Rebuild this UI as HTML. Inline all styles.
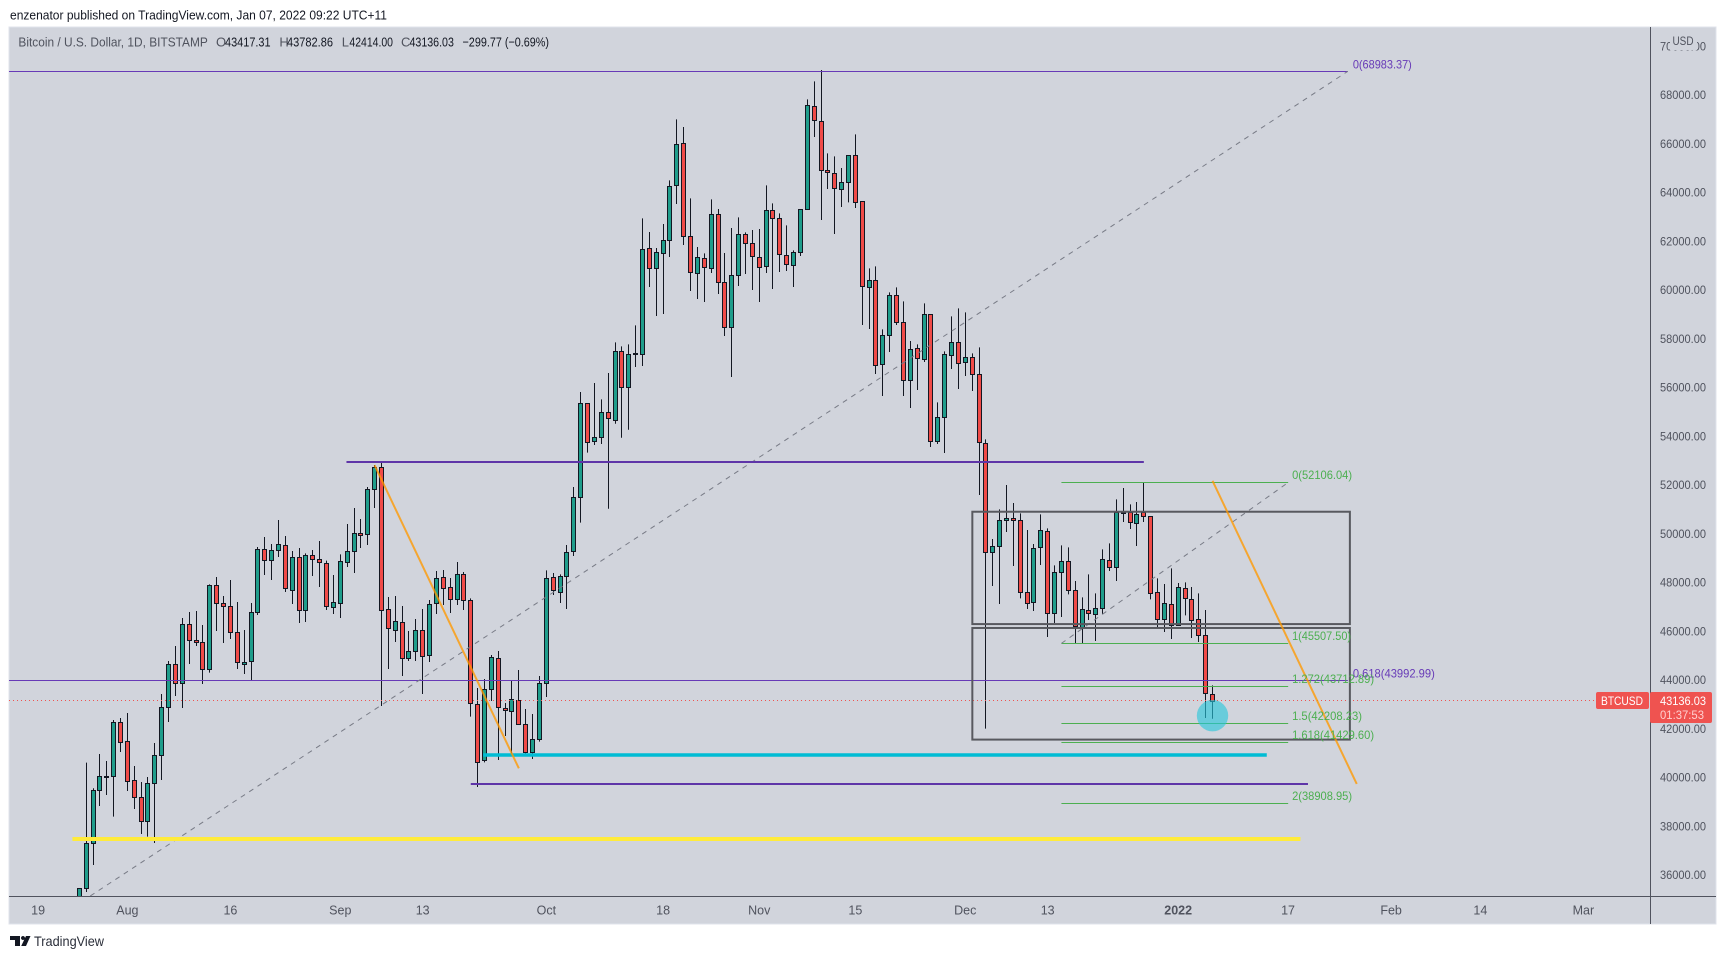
<!DOCTYPE html>
<html lang="en">
<head>
<meta charset="utf-8">
<title>BTCUSD chart</title>
<style>
html,body{margin:0;padding:0;background:#fff;width:1726px;height:959px;overflow:hidden}
svg{display:block;font-family:"Liberation Sans",sans-serif}
</style>
</head>
<body>
<svg id="chart" width="1726" height="959" viewBox="0 0 1726 959" xmlns="http://www.w3.org/2000/svg">
  <defs><clipPath id="plot-clip"><rect x="9" y="27" width="1641" height="869"/></clipPath></defs>
  <rect x="0" y="0" width="1726" height="959" fill="#ffffff"/>
  <text x="10" y="19.5" font-size="13" fill="#131722" textLength="377" lengthAdjust="spacingAndGlyphs">enzenator published on TradingView.com, Jan 07, 2022 09:22 UTC+11</text>
  <rect x="9" y="27" width="1707" height="897" fill="#d1d4dc" stroke="#e0e3eb" stroke-width="1"/>
  <g id="candles" clip-path="url(#plot-clip)"></g>
  <g id="drawings" clip-path="url(#plot-clip)"></g>
  <g id="labels"></g>
  <g font-size="13">
    <text x="18.4" y="46.5" fill="#50535e" textLength="189.4" lengthAdjust="spacingAndGlyphs">Bitcoin / U.S. Dollar, 1D, BITSTAMP</text>
    <text x="216" y="46.5" fill="#50535e">O</text>
    <text x="225" y="46.5" fill="#131722" textLength="45.6" lengthAdjust="spacingAndGlyphs">43417.31</text>
    <text x="279.4" y="46.5" fill="#50535e">H</text>
    <text x="287" y="46.5" fill="#131722" textLength="46" lengthAdjust="spacingAndGlyphs">43782.86</text>
    <text x="341.7" y="46.5" fill="#50535e">L</text>
    <text x="349.4" y="46.5" fill="#131722" textLength="43.6" lengthAdjust="spacingAndGlyphs">42414.00</text>
    <text x="401" y="46.5" fill="#50535e">C</text>
    <text x="409.5" y="46.5" fill="#131722" textLength="44.4" lengthAdjust="spacingAndGlyphs">43136.03</text>
    <text x="462.5" y="46.5" fill="#131722" textLength="86.5" lengthAdjust="spacingAndGlyphs">−299.77 (−0.69%)</text>
  </g>
  <line x1="1650.5" y1="27" x2="1650.5" y2="924" stroke="#50535e" stroke-width="1"/>
  <line x1="9" y1="896.5" x2="1716" y2="896.5" stroke="#50535e" stroke-width="1"/>
  <g id="y-ticks"></g>
  <g id="x-ticks"></g>
  <rect x="1670" y="32" width="27" height="18" fill="#d1d4dc"/>
  <text x="1672.5" y="45" font-size="11.5" fill="#50535e" textLength="21" lengthAdjust="spacingAndGlyphs">USD</text>
  <rect x="1596" y="692" width="53" height="17" rx="2" fill="#ef5350"/>
  <text x="1601" y="705" font-size="12" fill="#ffffff" textLength="42" lengthAdjust="spacingAndGlyphs">BTCUSD</text>
  <rect x="1650" y="692" width="62" height="31" rx="2" fill="#ef5350"/>
  <text x="1660" y="705" font-size="12" fill="#ffffff" textLength="46" lengthAdjust="spacingAndGlyphs">43136.03</text>
  <text x="1660" y="719" font-size="12" fill="#ffd0cf" textLength="44" lengthAdjust="spacingAndGlyphs">01:37:53</text>
  <g>
    <path d="M10 936h10v10h-5v-6h-5zM26 936h4.5l-4.5 10h-4.8zM23 936a2 2 0 1 1-.01 0z" fill="#131722"/>
    <text x="34" y="946" font-size="14" fill="#2a2e39" textLength="70" lengthAdjust="spacingAndGlyphs">TradingView</text>
  </g>
</svg>
<script>
const opens = [
34270,35457,37304,39478,40040,40053,42269,41489,39889,39191,
38207,39766,40915,42884,44648,43869,46290,45633,45551,44443,
47890,47151,47028,45961,44648,44771,46782,49367,48916,49326,
49531,47685,49039,46864,49121,48957,48793,46987,47151,48834,
49285,50051,49982,51829,52731,46905,46071,46372,44895,45182,
46043,45018,47151,48218,47808,47315,48341,47274,43007,40709,
43623,44895,42843,42720,43171,42187,41038,41571,43869,48218,
47630,48259,49285,51528,55357,53825,53962,54987,54659,57490,
56013,57367,57367,61716,60896,61511,62045,64301,66025,62209,
60691,61306,60896,63112,60321,58475,60609,62291,61922,61347,
60978,63276,62947,61429,61019,61552,63317,67543,66927,64917,
64794,64137,64425,65532,63645,60116,60403,56957,58147,59788,
58680,56300,57613,57162,59008,53798,54782,57326,57860,57039,
57244,56547,53715,49244,49490,50557,50639,50557,47603,47192,
49449,50106,46741,48423,48875,47685,46167,46864,46700,46946,
48916,48628,50844,50885,50434,50885,50721,47603,46495,47110,
46249,47767,47315,46495,45838,43417.31];
const highs = [
35470,40614,39561,40969,40682,42364,42446,42652,40477,39820,
40026,41421,43431,44785,45401,46549,46796,46837,46262,47931,
48232,47452,48109,47206,46057,47165,49463,49873,49586,50571,
49914,49299,49422,49203,49340,49709,48902,48314,49162,50406,
51063,50612,51925,52827,52991,47411,47452,47042,46016,46508,
46919,47288,48478,48519,48191,48847,48437,47356,43677,44047,
45031,45195,43062,43978,44416,42816,42611,44170,48505,48396,
48341,49545,51925,55822,55357,56191,55521,56601,57860,57695,
57777,58557,62947,62387,61730,62715,64507,67009,66695,63768,
61771,61511,63727,63330,61525,62551,62988,62373,62469,62510,
64301,63563,63153,62660,61634,63317,67830,68569,69034,65614,
65491,65013,65532,66394,63645,60896,60978,58393,59911,60116,
59542,57914,57777,59460,59008,55398,57490,58926,59255,59090,
57408,57654,53880,49791,51008,52007,51268,50844,50160,49586,
50803,50229,48710,49531,49449,48068,47397,48341,47562,49367,
49613,51418,51884,51213,51309,52116,50721,48177,47945,48587,
47986,48013,47821,47562,46878,43782.86];
const lows = [
33870,35307,36415,38836,39287,38398,41051,39451,38713,37687,
37577,37318,39902,42282,43349,42857,44662,45401,43841,44306,
46016,45524,45688,44457,44252,44006,46673,48314,48109,49052,
47616,47124,46344,46385,48273,47821,46878,46714,46549,48642,
48396,49422,49545,51063,42939,44457,45565,44170,44785,44785,
43431,44744,46714,47083,46755,47083,46878,42501,39615,40627,
43144,40723,41708,40997,42159,40997,40764,41475,43308,47493,
47165,46919,49093,50461,53333,53647,53688,51034,54522,53948,
54276,56847,56889,60130,58940,59022,61361,63536,61853,59966,
59638,59514,60704,59843,58119,56437,60171,60663,60007,59514,
60704,60048,60745,60786,60130,61402,63317,66285,62879,64151,
62305,63412,63604,63371,58571,58407,56560,55658,57463,58571,
55658,55165,55904,57053,53565,53688,53319,56765,55945,56478,
55863,51596,42009,47862,47124,50078,48683,47356,46919,46837,
48724,45770,46344,46591,47521,45524,45524,46467,45606,46714,
48478,48068,50488,50201,49504,50488,47315,46139,45975,45688,
46221,46659,45729,45565,42446,42414.00];
const closes = [
35460,37304,39478,40053,40060,42269,41475,39848,39191,38207,
39766,40915,42884,44648,43869,46290,45633,45551,44443,47890,
47151,47028,45961,44730,44730,46782,49367,48916,49326,49572,
47767,49039,46864,49121,48957,48834,47028,47192,48875,49285,
50023,49941,51829,52731,46864,46125,46413,44895,45182,46043,
44977,47110,48177,47767,47315,48341,47274,43048,40627,43623,
44936,42884,42761,43212,42214,41065,41571,43869,48177,47685,
48259,49244,51501,55357,53784,53962,54987,54741,57490,56013,
57367,57408,61675,60896,61552,62045,64260,65984,62209,60732,
61347,60937,63112,60321,58475,60609,62291,61922,61388,60937,
63276,62947,61470,61060,61552,63317,67584,66968,64917,64835,
64178,64425,65532,63604,60157,60403,56916,58147,59788,58680,
56300,57572,57203,59008,53798,54782,57367,57860,56998,57244,
56547,53756,49244,49490,50557,50639,50557,47603,47151,49408,
50147,46741,48423,48875,47685,46208,46905,46741,46946,48957,
48628,50885,50885,50475,50803,50721,47562,46495,47151,46249,
47808,47356,46454,45838,43458,43136.03];

const priceTicks = [70000,68000,66000,64000,62000,60000,58000,56000,54000,52000,50000,48000,46000,44000,42000,40000,38000,36000];
const timeTickLabels = ["19","Aug","16","Sep","13","Oct","18","Nov","15","Dec","13","2022","17","Feb","14","Mar"];
const timeTickBars = [-6,7,22,38,50,68,85,99,113,129,141,160,176,191,204,219];

const lastPrice = 43136.03;
const mainFibPrices = [68983.37, 43992.99];
const mainFibLabels = ["0(68983.37)", "0.618(43992.99)"];
const mainFibLabelWidths = [59, 82];
const mainFibEndBar = 184.7;
const mainFibStartBar = 1.6;
const mainFibStartPrice = 35143;
const projectionPrices = [52106.04, 45507.50, 43730, 42208.23, 41429.60, 38920];
const projectionLabels = ["0(52106.04)", "1(45507.50)", "1.272(43712.89)", "1.5(42208.23)", "1.618(41429.60)", "2(38908.95)"];
const projectionLabelWidths = [60, 59, 82, 70, 82, 60];
const projectionBars = [143, 176];
const levelPrices = [52950, 39738, 40928, 37482];
const levelStartBars = [38.9, 57, 58.8, -1];
const levelEndBars = [155, 178.9, 172.9, 177.8];
const levelColors = ["#5e35a8", "#5e35a8", "#00bcd4", "#ffeb3b"];
const levelWidths = [2, 2, 3.5, 4];
const trendStartBars = [43, 165];
const trendStartPrices = [52820, 52180];
const trendEndBars = [64, 186];
const trendEndPrices = [40380, 39740];
const boxBars = [130, 185];
const boxTopPrices = [50910, 46140];
const boxBottomPrices = [46300, 41560];
const circleBar = 165;
const circlePrice = 42541;

const NS = "http://www.w3.org/2000/svg";
const barToX = i => 79.3 + i * 6.868;
const priceToY = p => 680.3 - (p - 43993) * 0.02437;
const crisp = v => Math.floor(v) + 0.5;
const candlesG = document.getElementById("candles");
const drawingsG = document.getElementById("drawings");
const labelsG = document.getElementById("labels");
const yTicksG = document.getElementById("y-ticks");
const xTicksG = document.getElementById("x-ticks");

function mk(tag, attrs, parent) {
  const el = document.createElementNS(NS, tag);
  for (const k in attrs) el.setAttribute(k, attrs[k]);
  parent.appendChild(el);
  return el;
}

opens.forEach((o, i) => {
  const c = closes[i];
  const cx = crisp(barToX(i));
  const wick = mk("line", {x1: cx, x2: cx, y1: priceToY(highs[i]), y2: priceToY(lows[i]), stroke: "#131722", "stroke-width": 1}, candlesG);
  
  
  const top = Math.round(priceToY(Math.max(o, c))) + 0.5;
  const bot = Math.round(priceToY(Math.min(o, c))) + 0.5;
  const body = mk("rect", {x: cx - 2, width: 4, y: top, height: Math.max(bot - top, 0.5), fill: c >= o ? "#1f9d8b" : "#f04b48", stroke: "#131722", "stroke-width": 1}, candlesG);
  
  
});

const lastLine = mk("line", {x1: 9, x2: 1596, y1: crisp(priceToY(lastPrice) - 0.7), y2: crisp(priceToY(lastPrice) - 0.7), stroke: "#ef5350", "stroke-width": 1, "stroke-dasharray": "1 3"}, drawingsG);



mainFibPrices.forEach((p, i) => {
  const y = crisp(priceToY(p));
  const line = mk("line", {x1: 9, x2: barToX(mainFibEndBar), y1: y, y2: y, stroke: "#673ab7", "stroke-width": 1}, drawingsG);
  
  
  const t = mk("text", {x: barToX(mainFibEndBar) + 5, y: y - 3, "font-size": 12, fill: "#673ab7", textLength: mainFibLabelWidths[i], lengthAdjust: "spacingAndGlyphs"}, labelsG);
  t.textContent = mainFibLabels[i];
  
  
});

const mainDiag = mk("line", {x1: barToX(mainFibStartBar), y1: priceToY(mainFibStartPrice), x2: barToX(mainFibEndBar), y2: priceToY(mainFibPrices[0]), stroke: "#787b86", "stroke-width": 1, "stroke-dasharray": "5 5"}, drawingsG);



projectionPrices.forEach((p, i) => {
  const y = crisp(priceToY(p));
  const line = mk("line", {x1: barToX(projectionBars[0]), x2: barToX(projectionBars[1]) + 0.1, y1: y, y2: y, stroke: "#4caf50", "stroke-width": 1}, drawingsG);
  
  
  const t = mk("text", {x: barToX(projectionBars[1]) + 4, y: y - 3.5, "font-size": 12, fill: "#4caf50", textLength: projectionLabelWidths[i], lengthAdjust: "spacingAndGlyphs"}, labelsG);
  t.textContent = projectionLabels[i];
  
  
});

const projDiag = mk("line", {x1: barToX(projectionBars[0]), y1: priceToY(projectionPrices[1]), x2: barToX(projectionBars[1]), y2: priceToY(projectionPrices[0]), stroke: "#787b86", "stroke-width": 1, "stroke-dasharray": "5 5"}, drawingsG);



boxTopPrices.forEach((p, i) => {
  const y1 = priceToY(p);
  const y2 = priceToY(boxBottomPrices[i]);
  const box = mk("rect", {x: barToX(boxBars[0]) + 0.2, y: y1, width: barToX(boxBars[1]) - barToX(boxBars[0]) - 0.2, height: y2 - y1, fill: "none", stroke: "#58595f", "stroke-width": 2}, drawingsG);
  
  
});

levelPrices.forEach((p, i) => {
  const y = priceToY(p);
  const line = mk("line", {x1: barToX(levelStartBars[i]), x2: barToX(levelEndBars[i]), y1: y, y2: y, stroke: levelColors[i], "stroke-width": levelWidths[i]}, drawingsG);
  
  
});

trendStartBars.forEach((b, i) => {
  const line = mk("line", {x1: barToX(b), y1: priceToY(trendStartPrices[i]), x2: barToX(trendEndBars[i]), y2: priceToY(trendEndPrices[i]), stroke: "#ff9800", "stroke-opacity": 0.78, "stroke-width": 2}, drawingsG);
  
  
});

const circle = mk("circle", {cx: barToX(circleBar), cy: priceToY(circlePrice), r: 15.7, fill: "#26c6da", "fill-opacity": 0.62}, drawingsG);



priceTicks.forEach(p => {
  const t = mk("text", {x: 1660, y: priceToY(p) + 4, "font-size": 12, fill: "#50535e", textLength: 46, lengthAdjust: "spacingAndGlyphs"}, yTicksG);
  t.textContent = p.toFixed(2);
  
  
});

timeTickLabels.forEach((s, i) => {
  const t = mk("text", {x: barToX(timeTickBars[i]), y: 914.5, "font-size": 12.5, fill: "#50535e", "text-anchor": "middle", "font-weight": s === "2022" ? "bold" : "normal"}, xTicksG);
  t.textContent = s;
  
  
});
</script>
</body>
</html>
